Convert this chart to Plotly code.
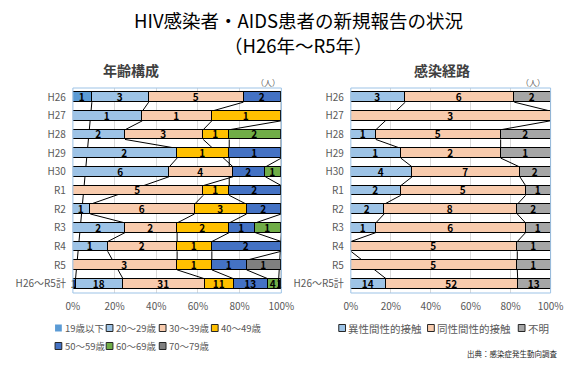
import plotly.graph_objects as go

# ---------------- data ----------------
periods = ["H26", "H27", "H28", "H29", "H30", "R1", "R2", "R3", "R4", "R5", "H26～R5計"]

age_groups = ["19歳以下", "20～29歳", "30～39歳", "40～49歳", "50～59歳", "60～69歳", "70～79歳"]
age_u19 = [1, None, None, None, None, None, None, None, None, None, 1]
age_20s = [3, 1, 2, 2, 6, None, 1, 2, 1, None, 18]
age_30s = [5, 1, 3, None, 4, 5, 6, 2, 2, 3, 31]
age_40s = [None, 1, 1, 1, None, 1, 3, 2, 1, 1, 11]
age_50s = [2, None, None, 1, 2, 2, 2, 1, 2, 1, 13]
age_60s = [None, None, 2, None, 1, None, None, 1, None, None, 4]
age_70s = [None, None, None, None, None, None, None, None, None, 1, 1]

routes = ["異性間性的接触", "同性間性的接触", "不明"]
route_hetero = [3, None, 1, 1, 4, 2, 2, 1, 0, None, 14]
route_homo = [6, 3, 5, 2, 7, 5, 8, 6, 5, 5, 52]
route_unknown = [2, None, 2, 1, 2, 1, 2, 1, 1, 1, 13]

age_colors = ["#5B9BD5", "#9DC3E6", "#F8CBAD", "#FFC000", "#4472C4", "#70AD47", "#808080"]
route_colors = ["#9DC3E6", "#F8CBAD", "#A6A6A6"]

# ---------------- style ----------------
FONT = "Noto Sans CJK JP"
W, H = 580, 366
OFF = 8                      # page body margin
FW, FH = W - OFF, H - OFF    # figure size


def px(x):
    return (x - OFF) / FW


def py(y):
    return 1 - (y - OFF) / FH


BAR_W = 0.52
left_dom_x = [px(68), px(284)]
right_dom_x = [px(356), px(563)]
dom_y = [py(293), py(88)]

age_series = [age_u19, age_20s, age_30s, age_40s, age_50s, age_60s, age_70s]
route_series = [route_hetero, route_homo, route_unknown]

rows = list(range(len(periods)))
fig = go.Figure()


def add_bars(series_list, names, colors, xa, ya):
    for vals, name, col in zip(series_list, names, colors):
        fig.add_trace(go.Bar(
            orientation="h", x=vals, y=rows, name=name, xaxis=xa, yaxis=ya,
            width=BAR_W,
            marker=dict(color=col, line=dict(color="#000000", width=1.2)),
            text=[str(v) if v else "" for v in vals],
            textposition="inside", insidetextanchor="middle", textangle=0,
            constraintext="none", cliponaxis=False,
            textfont=dict(family=FONT, size=10, color="#000000", weight="bold"),
            showlegend=False, hoverinfo="x+y+name",
        ))


def series_lines(series_list, xref, yref):
    n = len(periods)
    totals = [sum((s[i] or 0) for s in series_list) for i in range(n)]
    running = [0.0] * n
    for s in series_list:
        cum = []
        for i in range(n):
            running[i] += (s[i] or 0)
            cum.append(100.0 * running[i] / totals[i])
        present = [i for i in range(n) if s[i] is not None]
        for a, b in zip(present, present[1:]):
            fig.add_shape(type="line", xref=xref, yref=yref, layer="between",
                          x0=cum[a], y0=a + BAR_W / 2, x1=cum[b], y1=b - BAR_W / 2,
                          line=dict(color="#000000", width=1))


add_bars(age_series, age_groups, age_colors, "x", "y")
add_bars(route_series, routes, route_colors, "x2", "y2")
series_lines(age_series, "x", "y")
series_lines(route_series, "x2", "y2")

tick_vals = [0, 20, 40, 60, 80, 100]
tick_text = [f"{v}%" for v in tick_vals]
xax = dict(range=[0, 100.01], tickvals=tick_vals, ticktext=tick_text, showgrid=True,
           gridcolor="#D9D9D9", gridwidth=1, zeroline=False, showline=False,
           ticklabelstandoff=6, tickfont=dict(family=FONT, size=10, color="#595959"),
           fixedrange=True)
yax = dict(range=[len(periods) - 0.5, -0.5], tickvals=rows, ticktext=periods,
           showgrid=False, zeroline=False, showline=False, ticklabelstandoff=6,
           tickfont=dict(family=FONT, size=10, color="#595959"), fixedrange=True)

fig.update_layout(
    width=FW, height=FH, autosize=False,
    margin=dict(l=0, r=0, t=0, b=0),
    paper_bgcolor="white", plot_bgcolor="white",
    barmode="stack", barnorm="percent", bargap=0,
    font=dict(family=FONT, color="#404040"),
    xaxis=dict(domain=left_dom_x, anchor="y", **xax),
    yaxis=dict(domain=dom_y, anchor="x", **yax),
    xaxis2=dict(domain=right_dom_x, anchor="y2", **xax),
    yaxis2=dict(domain=dom_y, anchor="x2", **yax),
)

# plot-area borders
for xr, yr in [("x domain", "y domain"), ("x2 domain", "y2 domain")]:
    fig.add_shape(type="rect", xref=xr, yref=yr, x0=0, x1=1, y0=0, y1=1,
                  line=dict(color="#9DC3E6", width=1), layer="above")

ann = []
ann.append(dict(text="HIV感染者・AIDS患者の新規報告の状況", x=px(302), y=py(20),
                font=dict(size=18.5, color="#000000")))
ann.append(dict(text="（H26年～R5年）", x=px(302), y=py(45),
                font=dict(size=18.5, color="#000000")))
ann.append(dict(text="<b>年齢構成</b>", x=px(128), y=py(70),
                font=dict(size=14, color="#404040")))
ann.append(dict(text="<b>感染経路</b>", x=px(450), y=py(70),
                font=dict(size=14, color="#404040")))
ann.append(dict(text="（人）", x=px(270), y=py(82), font=dict(size=8, color="#595959")))
ann.append(dict(text="（人）", x=px(545), y=py(82), font=dict(size=8, color="#595959")))
ann.append(dict(text="出典：感染症発生動向調査", x=px(572), y=py(353), xanchor="right",
                font=dict(size=7.5, color="#262626")))

# manual legends (square + label)
SQ = 7
left_leg_pos = [(53, 328), (106, 328), (161, 328), (215, 328), (53, 346), (106, 346), (161, 346)]
right_leg_pos = [(347, 328), (439, 328), (533, 328)]


def add_legend(names, colors, positions, size, first_plain=False):
    for k, (name, col, (lx, ly)) in enumerate(zip(names, colors, positions)):
        lw = 0 if (first_plain and k == 0) else 1
        fig.add_shape(type="rect", xref="paper", yref="paper",
                      x0=px(lx - SQ / 2), x1=px(lx + SQ / 2),
                      y0=py(ly + SQ / 2), y1=py(ly - SQ / 2),
                      fillcolor=col, line=dict(color="#262626", width=lw))
        ann.append(dict(text=name, x=px(lx + SQ / 2 + 1), y=py(ly), xanchor="left",
                        font=dict(size=size, color="#595959")))


add_legend(age_groups, age_colors, left_leg_pos, 9.5, first_plain=True)
add_legend(routes, route_colors, right_leg_pos, 10.5)

for a in ann:
    a.setdefault("xanchor", "center")
    a.update(xref="paper", yref="paper", yanchor="middle", showarrow=False)
    a["font"].setdefault("family", FONT)
fig.update_layout(annotations=ann)

fig.write_html("out.html")
